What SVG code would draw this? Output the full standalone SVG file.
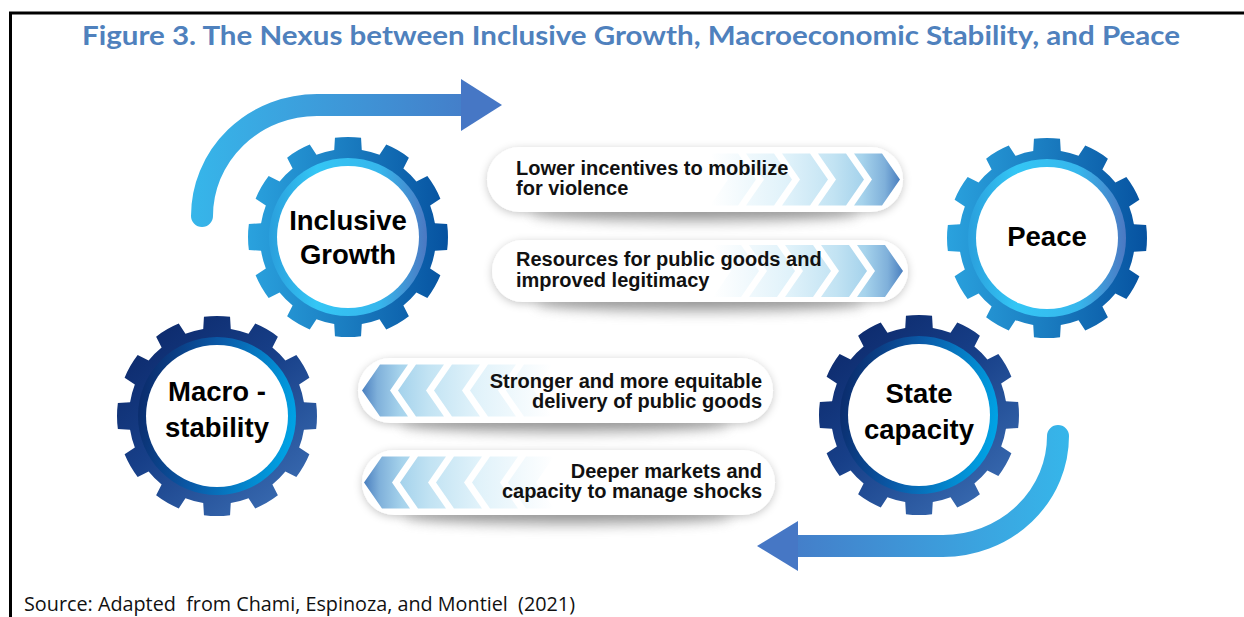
<svg xmlns="http://www.w3.org/2000/svg" width="1244" height="617" viewBox="0 0 1244 617">
<style>
.title{font-family:Lato,"Open Sans",sans-serif;font-weight:700;font-size:26px;fill:#4f81bd}
.src{font-family:"Open Sans","Noto Sans",sans-serif;font-size:20px;fill:#111;white-space:pre}
.gt{font-family:"Liberation Sans",Arial,sans-serif;font-weight:700;font-size:27.5px;fill:#000;text-anchor:middle}
.bt{font-family:"Liberation Sans",Arial,sans-serif;font-weight:700;font-size:20px;fill:#111}
.r{text-anchor:end}
.pill{fill:#fff;filter:url(#soft)}
.under{fill:#777;opacity:.55;filter:url(#blur)}
.frame{stroke:#000;stroke-width:3;fill:none}
.shaft{fill:none;stroke-width:22;stroke-linecap:round}
</style>
<defs>
<filter id="soft" x="-10%" y="-40%" width="120%" height="180%">
<feGaussianBlur in="SourceAlpha" stdDeviation="4"/><feOffset dy="2" result="b"/>
<feFlood flood-color="#000" flood-opacity="0.22"/><feComposite in2="b" operator="in"/>
<feMerge><feMergeNode/><feMergeNode in="SourceGraphic"/></feMerge>
</filter>
<filter id="blur" x="-20%" y="-150%" width="140%" height="400%"><feGaussianBlur stdDeviation="6"/></filter>
<linearGradient id="lgBody" x1="0" y1="0" x2="1" y2="0"><stop offset="0" stop-color="#2aa2de"/><stop offset="0.5" stop-color="#1a7cc0"/><stop offset="1" stop-color="#0652a0"/></linearGradient>
<linearGradient id="lgBand" x1="0" y1="0" x2="1" y2="0"><stop offset="0" stop-color="#2a9fdc"/><stop offset="0.3" stop-color="#34c6f5"/><stop offset="0.7" stop-color="#36b6ec"/><stop offset="1" stop-color="#4c78c2"/></linearGradient>
<linearGradient id="dkBody" x1="0" y1="0" x2="0.8" y2="1"><stop offset="0" stop-color="#0a2464"/><stop offset="0.5" stop-color="#173f88"/><stop offset="1" stop-color="#3a6cb2"/></linearGradient>
<linearGradient id="dkBand" x1="0" y1="0.3" x2="1" y2="0.5"><stop offset="0" stop-color="#0b2a6a"/><stop offset="0.45" stop-color="#0a5aa8"/><stop offset="1" stop-color="#00a2e4"/></linearGradient>
<linearGradient id="chevG" x1="0" y1="0" x2="1" y2="0"><stop offset="0" stop-color="#ffffff"/><stop offset="0.4" stop-color="#e0f2fa"/><stop offset="0.65" stop-color="#c2e3f3"/><stop offset="0.8" stop-color="#a6d3ec"/><stop offset="0.92" stop-color="#7fb0da"/><stop offset="1" stop-color="#4a7fbf"/></linearGradient>
<linearGradient id="arTop" gradientUnits="userSpaceOnUse" x1="190" y1="0" x2="502" y2="0"><stop offset="0" stop-color="#36b6ea"/><stop offset="1" stop-color="#4677c5"/></linearGradient>
<linearGradient id="arBot" gradientUnits="userSpaceOnUse" x1="1070" y1="0" x2="757" y2="0"><stop offset="0" stop-color="#36b6ea"/><stop offset="1" stop-color="#4677c5"/></linearGradient>
<path id="gear" d="M86.92,-13.77 L99.14,-13.05 A100,100 0 0 1 99.14,13.05 L86.92,13.77 A88,88 0 0 1 82.16,31.54 L92.39,38.27 A100,100 0 0 1 79.34,60.88 L68.39,55.38 A88,88 0 0 1 55.38,68.39 L60.88,79.34 A100,100 0 0 1 38.27,92.39 L31.54,82.16 A88,88 0 0 1 13.77,86.92 L13.05,99.14 A100,100 0 0 1 -13.05,99.14 L-13.77,86.92 A88,88 0 0 1 -31.54,82.16 L-38.27,92.39 A100,100 0 0 1 -60.88,79.34 L-55.38,68.39 A88,88 0 0 1 -68.39,55.38 L-79.34,60.88 A100,100 0 0 1 -92.39,38.27 L-82.16,31.54 A88,88 0 0 1 -86.92,13.77 L-99.14,13.05 A100,100 0 0 1 -99.14,-13.05 L-86.92,-13.77 A88,88 0 0 1 -82.16,-31.54 L-92.39,-38.27 A100,100 0 0 1 -79.34,-60.88 L-68.39,-55.38 A88,88 0 0 1 -55.38,-68.39 L-60.88,-79.34 A100,100 0 0 1 -38.27,-92.39 L-31.54,-82.16 A88,88 0 0 1 -13.77,-86.92 L-13.05,-99.14 A100,100 0 0 1 13.05,-99.14 L13.77,-86.92 A88,88 0 0 1 31.54,-82.16 L38.27,-92.39 A100,100 0 0 1 60.88,-79.34 L55.38,-68.39 A88,88 0 0 1 68.39,-55.38 L79.34,-60.88 A100,100 0 0 1 92.39,-38.27 L82.16,-31.54 A88,88 0 0 1 86.92,-13.77 Z"/>
<path id="chev" d="M0,0h28l18,26l-18,26h-28l18,-26z M36,0h28l18,26l-18,26h-28l18,-26z M72,0h28l18,26l-18,26h-28l18,-26z M108,0h28l18,26l-18,26h-28l18,-26z M144,0h28l18,26l-18,26h-28l18,-26z"/>
</defs>

<rect width="1244" height="617" fill="#fff"/>

<g id="frame">
<path class="frame" d="M9,13 H1244"/>
<path class="frame" d="M10.5,12 V617"/>
</g>

<text id="title" class="title" x="82" y="45" textLength="1098" lengthAdjust="spacingAndGlyphs">Figure 3. The Nexus between Inclusive Growth, Macroeconomic Stability, and Peace</text>

<g id="connectors">
<g id="arrow-top">
<path class="shaft" d="M202,216 A115,111 0 0 1 317,105 L464,105" stroke="url(#arTop)"/>
<path d="M461,79 L502,105 L461,131 Z" fill="#4677c5"/>
</g>
<g id="arrow-bottom">
<path class="shaft" d="M1058,436 A115,110 0 0 1 943,546 L796,546" stroke="url(#arBot)"/>
<path d="M798,521 L757,546 L798,571 Z" fill="#4677c5"/>
</g>
</g>

<g id="link-1">
<ellipse class="under" cx="695" cy="214" rx="165" ry="9"/>
<rect class="pill" x="487" y="147" width="416" height="65" rx="32.5"/>
<use href="#chev" x="710" y="153.5" fill="url(#chevG)"/>
<text class="bt" x="516" y="174.5">Lower incentives to mobilize</text>
<text class="bt" x="516" y="195">for violence</text>
</g>
<g id="link-2">
<ellipse class="under" cx="700" cy="304" rx="165" ry="9"/>
<rect class="pill" x="492" y="240" width="416" height="62" rx="31"/>
<use href="#chev" x="713" y="245" fill="url(#chevG)"/>
<text class="bt" x="516" y="266">Resources for public goods and</text>
<text class="bt" x="516" y="287">improved legitimacy</text>
</g>
<g id="link-3">
<ellipse class="under" cx="565" cy="425" rx="165" ry="9"/>
<rect class="pill" x="358" y="358" width="415" height="65" rx="32.5"/>
<use href="#chev" transform="translate(552,364.5) scale(-1,1)" fill="url(#chevG)"/>
<text class="bt r" x="762" y="388">Stronger and more equitable</text>
<text class="bt r" x="762" y="408">delivery of public goods</text>
</g>
<g id="link-4">
<ellipse class="under" cx="568" cy="517" rx="165" ry="9"/>
<rect class="pill" x="362" y="450" width="413" height="65" rx="32.5"/>
<use href="#chev" transform="translate(554,456.5) scale(-1,1)" fill="url(#chevG)"/>
<text class="bt r" x="762" y="478">Deeper markets and</text>
<text class="bt r" x="762" y="498">capacity to manage shocks</text>
</g>

<g id="node-inclusive-growth">
<g transform="translate(348,237)">
<use href="#gear" fill="url(#lgBody)"/>
<circle r="79" fill="url(#lgBand)"/>
<circle r="71" fill="#fff"/>
</g>
<text class="gt" x="348" y="230">Inclusive</text>
<text class="gt" x="348" y="264">Growth</text>
</g>

<g id="node-peace">
<g transform="translate(1047,238)">
<use href="#gear" fill="url(#lgBody)"/>
<circle r="79" fill="url(#lgBand)"/>
<circle r="71" fill="#fff"/>
</g>
<text class="gt" x="1047" y="246">Peace</text>
</g>

<g id="node-macro-stability">
<g transform="translate(217,416)">
<use href="#gear" fill="url(#dkBody)"/>
<circle r="79" fill="url(#dkBand)"/>
<circle r="71" fill="#fff"/>
</g>
<text class="gt" x="217" y="401">Macro -</text>
<text class="gt" x="217" y="437">stability</text>
</g>

<g id="node-state-capacity">
<g transform="translate(919,415)">
<use href="#gear" fill="url(#dkBody)"/>
<circle r="79" fill="url(#dkBand)"/>
<circle r="71" fill="#fff"/>
</g>
<text class="gt" x="919" y="403">State</text>
<text class="gt" x="919" y="439">capacity</text>
</g>

<text id="source" class="src" x="24" y="611" textLength="551" lengthAdjust="spacingAndGlyphs">Source: Adapted  from Chami, Espinoza, and Montiel  (2021)</text>
</svg>
